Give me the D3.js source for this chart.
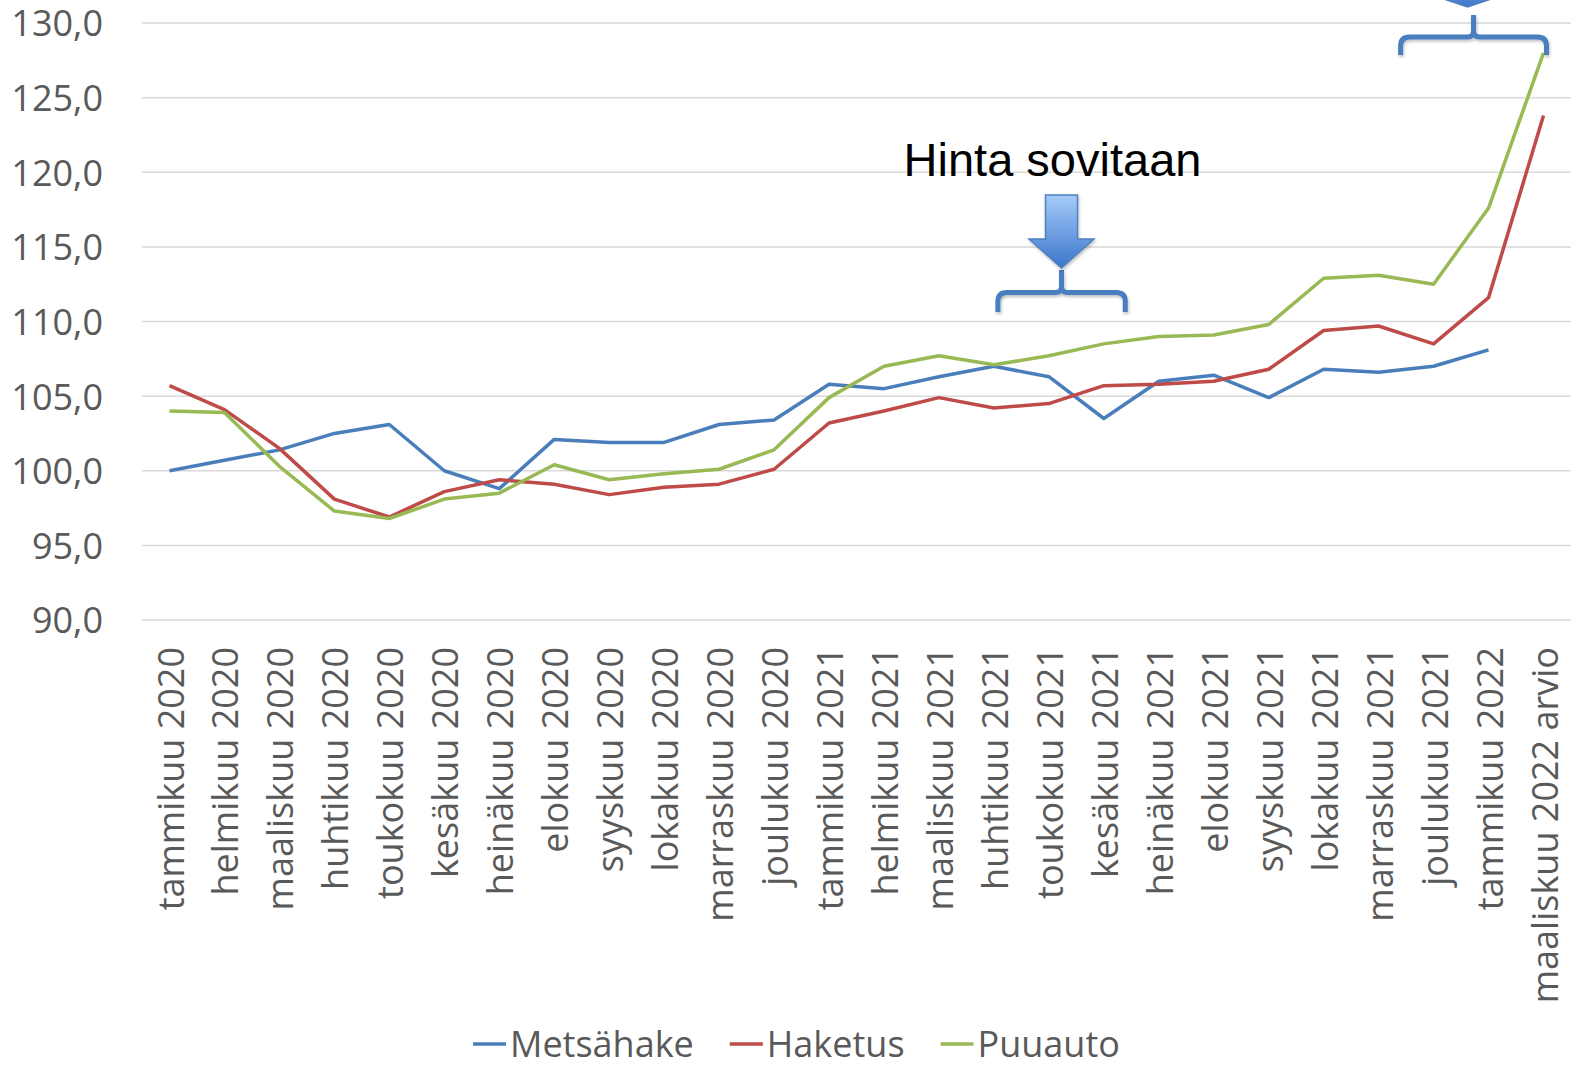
<!DOCTYPE html>
<html>
<head>
<meta charset="utf-8">
<script src="https://cdn.jsdelivr.net/npm/d3@7"></script>
<style>
    body { margin: 0; background: #fff; }
    svg { display: block; }
</style>
</head>
<body>
<svg id="chart"></svg>
<script>
// ------------------- DATA ----------------------
const categories = [
    "tammikuu 2020", "helmikuu 2020", "maaliskuu 2020", "huhtikuu 2020", "toukokuu 2020",
    "kesäkuu 2020", "heinäkuu 2020", "elokuu 2020", "syyskuu 2020", "lokakuu 2020",
    "marraskuu 2020", "joulukuu 2020", "tammikuu 2021", "helmikuu 2021", "maaliskuu 2021",
    "huhtikuu 2021", "toukokuu 2021", "kesäkuu 2021", "heinäkuu 2021", "elokuu 2021",
    "syyskuu 2021", "lokakuu 2021", "marraskuu 2021", "joulukuu 2021", "tammikuu 2022",
    "maaliskuu 2022 arvio"
];

const metsahake = [100.0, 100.7, 101.4, 102.5, 103.1, 100.0, 98.8, 102.1, 101.9, 101.9,
    103.1, 103.4, 105.8, 105.5, 106.3, 107.0, 106.3, 103.5, 106.0, 106.4,
    104.9, 106.8, 106.6, 107.0, 108.1, null];

const haketus = [105.7, 104.1, 101.5, 98.1, 96.9, 98.6, 99.4, 99.1, 98.4, 98.9,
    99.1, 100.1, 103.2, 104.0, 104.9, 104.2, 104.5, 105.7, 105.8, 106.0,
    106.8, 109.4, 109.7, 108.5, 111.6, 123.8];

const puuauto = [104.0, 103.9, 100.3, 97.3, 96.8, 98.1, 98.5, 100.4, 99.4, 99.8,
    100.1, 101.4, 104.9, 107.0, 107.7, 107.1, 107.7, 108.5, 109.0, 109.1,
    109.8, 112.9, 113.1, 112.5, 117.6, 128.0];

const yTicks = [90, 95, 100, 105, 110, 115, 120, 125, 130];

const seriesNames = ["Metsähake", "Haketus", "Puuauto"];
const annotationText = "Hinta sovitaan";

const series = [
    {name: seriesNames[0], values: metsahake, color: "#4A7EBB"},
    {name: seriesNames[1], values: haketus, color: "#BE4B48"},
    {name: seriesNames[2], values: puuauto, color: "#98B954"}
];

// ------------------- SVG ----------------------
const svgW = 1581, svgH = 1066;
const plotLeft = 142, plotRight = 1571, plotTop = 23, plotBottom = 620;
const textGray = "#595959";
const labelFont = "'Open Sans', 'DejaVu Sans', sans-serif";

const svg = d3.select("#chart")
    .attr("width", svgW)
    .attr("height", svgH)
;

const xScale = d3.scaleBand()
    .domain(categories)
    .range([plotLeft, plotRight])
    .padding(0)
;
const xc = d => xScale(d) + xScale.bandwidth() / 2;
const step = xScale.step();

const yScale = d3.scaleLinear()
    .domain([90, 130])
    .range([plotBottom, plotTop])
;

const fi = d3.formatLocale({decimal: ",", thousands: " ", grouping: [3], currency: ["", "€"]});
const fmt = fi.format(".1f");

// gridlines
svg.append("g")
    .selectAll("line")
    .data(yTicks)
    .enter()
    .append("line")
    .attr("x1", plotLeft)
    .attr("x2", plotRight)
    .attr("y1", d => yScale(d))
    .attr("y2", d => yScale(d))
    .attr("stroke", "#D9D9D9")
    .attr("stroke-width", 1.5)
;

// y axis labels
const yAxis = d3.axisLeft(yScale)
    .tickValues(yTicks)
    .tickFormat(fmt)
    .tickSize(0)
    .tickPadding(0)
;
const yG = svg.append("g")
    .attr("transform", "translate(103,0)")
    .call(yAxis)
;
yG.select(".domain").remove();
yG.selectAll("text")
    .attr("fill", textGray)
    .style("font-family", labelFont)
    .style("font-size", "36px")
    .attr("dy", "0.36em")
;

// x axis labels (rotated)
const xAxis = d3.axisBottom(xScale).tickSize(0);
const xG = svg.append("g")
    .attr("transform", `translate(0,${plotBottom})`)
    .call(xAxis)
;
xG.select(".domain").remove();
xG.selectAll("text")
    .attr("fill", textGray)
    .style("font-family", labelFont)
    .style("font-size", "36px")
    .attr("text-anchor", "end")
    .attr("transform", "rotate(-90)")
    .attr("x", -27)
    .attr("y", 0)
    .attr("dy", "0.39em")
;

// lines
const line = d3.line()
    .defined(d => d.v != null)
    .x(d => xc(d.cat))
    .y(d => yScale(d.v))
;

svg.append("g")
    .selectAll("path")
    .data(series)
    .enter()
    .append("path")
    .attr("d", s => line(s.values.map((v, i) => ({cat: categories[i], v: v}))))
    .attr("fill", "none")
    .attr("stroke", s => s.color)
    .attr("stroke-width", 3.5)
    .attr("stroke-linejoin", "round")
;

// ------------------- annotations ----------------------
const defs = svg.append("defs");
const grad = defs.append("linearGradient")
    .attr("id", "arrowGrad")
    .attr("x1", 0).attr("y1", 0).attr("x2", 0).attr("y2", 1);
grad.append("stop").attr("offset", "0%").attr("stop-color", "#A6CBFA");
grad.append("stop").attr("offset", "100%").attr("stop-color", "#3B76C9");

const shadow = defs.append("filter").attr("id", "shadow")
    .attr("x", "-20%").attr("y", "-20%").attr("width", "140%").attr("height", "160%");
shadow.append("feDropShadow")
    .attr("dx", 1).attr("dy", 2).attr("stdDeviation", 1.5)
    .attr("flood-color", "#000").attr("flood-opacity", 0.25);

function bracePath(l, r, c, yTop, yEnd, yStem) {
    const rc = 9, rs = 6;
    return `M${l},${yEnd} L${l},${yTop + rc} Q${l},${yTop} ${l + rc},${yTop}`
        + ` L${c - rs},${yTop} Q${c},${yTop} ${c},${yTop - rs} L${c},${yStem}`
        + ` M${c},${yTop - rs} Q${c},${yTop} ${c + rs},${yTop}`
        + ` L${r - rc},${yTop} Q${r},${yTop} ${r},${yTop + rc} L${r},${yEnd}`;
}

function arrowPath(cx, yTop, yShoulder, yTip, shaftHalf, headHalf) {
    return `M${cx - shaftHalf},${yTop} L${cx + shaftHalf},${yTop} L${cx + shaftHalf},${yShoulder}`
        + ` L${cx + headHalf},${yShoulder} L${cx},${yTip} L${cx - headHalf},${yShoulder}`
        + ` L${cx - shaftHalf},${yShoulder} Z`;
}

// first bracket: huhtikuu - kesäkuu 2021
const b1c = xc("toukokuu 2021") + 0.23 * step;
const b1l = xc("huhtikuu 2021") + 4;
const b1r = xc("kesäkuu 2021") + 0.39 * step;

svg.append("path")
    .attr("d", bracePath(b1l, b1r, b1c, 292.5, 312, 270))
    .attr("fill", "none")
    .attr("stroke", "#4A7EBF")
    .attr("stroke-width", 5)
    .attr("filter", "url(#shadow)")
;
svg.append("path")
    .attr("d", arrowPath(b1c, 195, 239, 268, 16, 32.5))
    .attr("fill", "url(#arrowGrad)")
    .attr("stroke", "#4F81BD")
    .attr("stroke-width", 1.5)
    .attr("filter", "url(#shadow)")
;
svg.append("text")
    .attr("x", b1c - 9)
    .attr("y", 176)
    .attr("text-anchor", "middle")
    .style("font-family", "'Liberation Sans', Arial, sans-serif")
    .style("font-size", "47px")
    .attr("fill", "#000")
    .text(annotationText)
;

// second bracket: joulukuu 2021 - maaliskuu 2022 arvio
const b2c = xc("tammikuu 2022") - 15;
const b2l = xc("joulukuu 2021") - 33;
const b2r = xc("maaliskuu 2022 arvio") + 3;

svg.append("path")
    .attr("d", bracePath(b2l, b2r, b2c, 37, 55, 15))
    .attr("fill", "none")
    .attr("stroke", "#4A7EBF")
    .attr("stroke-width", 5)
    .attr("filter", "url(#shadow)")
;
svg.append("path")
    .attr("d", arrowPath(b2c - 6, -40, -4, 7, 16, 32.5))
    .attr("fill", "url(#arrowGrad)")
    .attr("stroke", "#4F81BD")
    .attr("stroke-width", 1.5)
;

// ------------------- legend ----------------------
const legend = svg.append("g").attr("transform", "translate(473,1044)");
let lx = 0;
for (let s of series) {
    legend.append("line")
        .attr("x1", lx).attr("x2", lx + 33)
        .attr("y1", 0).attr("y2", 0)
        .attr("stroke", s.color)
        .attr("stroke-width", 3.5)
    ;
    const t = legend.append("text")
        .attr("x", lx + 37)
        .attr("y", 0)
        .attr("dy", "0.35em")
        .attr("fill", textGray)
        .style("font-family", labelFont)
        .style("font-size", "36px")
        .text(s.name)
    ;
    lx += 37 + t.node().getComputedTextLength() + 36;
}
</script>
</body>
</html>
